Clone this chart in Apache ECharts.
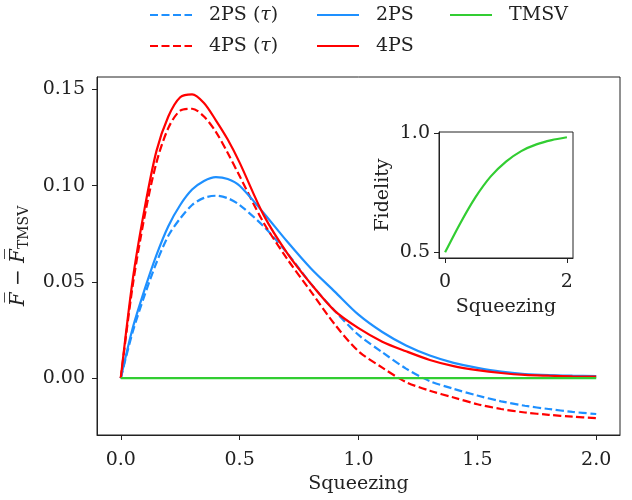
<!DOCTYPE html>
<html>
<head>
<meta charset="utf-8">
<script src="https://cdn.jsdelivr.net/npm/echarts@6/dist/echarts.min.js"></script>
<style>
  html, body { margin: 0; padding: 0; background: #fff; }
  #chart { width: 632px; height: 500px; }
</style>
</head>
<body>
<div id="chart"></div>
<script>
// squeezing values (x)
var squeezing = [0, 0.05, 0.1, 0.15, 0.2, 0.25, 0.3, 0.35, 0.4, 0.45, 0.5, 0.6, 0.7, 0.8, 0.9,
  1.0, 1.1, 1.2, 1.3, 1.4, 1.5, 1.6, 1.7, 1.8, 1.9, 2.0];

var ps2Tau = [0, 0.024, 0.043, 0.060, 0.074, 0.083, 0.090, 0.0937, 0.0948, 0.0935, 0.090, 0.079, 0.065, 0.049, 0.035,
  0.0225, 0.0135, 0.005, -0.0015, -0.0055, -0.009, -0.012, -0.0143, -0.016, -0.0175, -0.0186];
var ps4Tau = [0, 0.048, 0.084, 0.112, 0.130, 0.139, 0.140, 0.136, 0.128, 0.117, 0.105, 0.081, 0.062, 0.045, 0.028,
  0.014, 0.0055, -0.002, -0.0065, -0.010, -0.0135, -0.016, -0.0178, -0.019, -0.020, -0.0207];
var ps2 = [0, 0.026, 0.046, 0.064, 0.079, 0.090, 0.098, 0.1025, 0.1045, 0.1035, 0.100, 0.086, 0.071, 0.057, 0.045,
  0.033, 0.024, 0.017, 0.0118, 0.008, 0.0054, 0.0034, 0.0022, 0.0016, 0.0013, 0.0011];
var ps4 = [0, 0.051, 0.088, 0.118, 0.136, 0.146, 0.1475, 0.143, 0.134, 0.124, 0.112, 0.085, 0.065, 0.049, 0.035,
  0.026, 0.019, 0.014, 0.0095, 0.0063, 0.0042, 0.0027, 0.0017, 0.0013, 0.0010, 0.0008];
var tmsv = [0, 0, 0, 0, 0, 0, 0, 0, 0, 0, 0, 0, 0, 0, 0, 0, 0, 0, 0, 0, 0, 0, 0, 0, 0, 0];

// inset: TMSV fidelity
var insetSqueezing = [0, 0.25, 0.5, 0.75, 1.0, 1.25, 1.5, 1.75, 2.0];
var insetFidelity = [0.5, 0.622, 0.731, 0.818, 0.88, 0.924, 0.952, 0.97, 0.982];

var xTicks = [0, 0.5, 1, 1.5, 2];
var yTicks = [0, 0.05, 0.1, 0.15];
var insetXTicks = [0, 2];
var insetYTicks = [0.5, 1.0];

var FONT = 'DejaVu Serif';
var BLUE = '#1e90ff', RED = '#ff0000', GREEN = '#32cd32';

function pairs(xs, ys) {
  return xs.map(function (x, i) { return [x, ys[i]]; });
}

function lineSeries(name, ys, color, dashed) {
  return {
    type: 'line',
    name: name,
    xAxisIndex: 0,
    yAxisIndex: 0,
    data: pairs(squeezing, ys),
    symbol: 'none',
    smooth: 0.3,
    lineStyle: { color: color, width: 2.2, type: dashed ? [8, 3.5] : 'solid' },
    itemStyle: { color: color },
    animation: false
  };
}

var legendText = {
  fontFamily: FONT, fontSize: 19, color: '#222', lineHeight: 24,
  padding: [0, 0, 0, 12],
  rich: {
    a: { fontFamily: FONT, fontSize: 19, color: '#222' },
    i: { fontFamily: FONT, fontSize: 19, fontStyle: 'italic', color: '#222' }
  }
};
function legendFmt(name) {
  var m = name.match(/^(.*)\(τ\)$/);
  if (m) return '{a|' + m[1] + '(}{i|τ}{a|)}';
  return name;
}
function legendBox(left, names) {
  return {
    orient: 'vertical', left: left, top: 3, padding: 0,
    itemWidth: 42, itemHeight: 12, itemGap: 7,
    data: names, formatter: legendFmt, textStyle: legendText,
    itemStyle: { color: 'rgba(0,0,0,0)', borderWidth: 0, opacity: 0 },
    selectedMode: false
  };
}

var axisLabelStyle = { fontFamily: FONT, fontSize: 19, color: '#222' };
var axisLineStyle = { show: true, onZero: false, lineStyle: { color: '#222', width: 1 } };

var chart = echarts.init(document.getElementById('chart'), null, { renderer: 'canvas' });
chart.setOption({
  backgroundColor: '#fff',
  animation: false,
  legend: [
    legendBox(149, ['2PS (τ)', '4PS (τ)']),
    legendBox(316, ['2PS', '4PS']),
    legendBox(449, ['TMSV'])
  ],
  grid: [
    { left: 97, right: 12, top: 77, bottom: 65, show: true, borderColor: '#222', borderWidth: 1 },
    { left: 439, top: 132, width: 134, height: 126, show: true, borderColor: '#222', borderWidth: 1,
      backgroundColor: '#fff', z: 10 }
  ],
  xAxis: [
    {
      type: 'value', gridIndex: 0, min: -0.1, max: 2.1,
      name: 'Squeezing', nameLocation: 'middle', nameGap: 40,
      nameTextStyle: axisLabelStyle,
      axisLine: axisLineStyle,
      axisTick: { show: true, length: 5, customValues: xTicks, lineStyle: { color: '#222' } },
      axisLabel: { customValues: xTicks, margin: 16, formatter: function (v) { return v.toFixed(1); },
        fontFamily: FONT, fontSize: 19, color: '#222' },
      splitLine: { show: false }
    },
    {
      type: 'value', gridIndex: 1, min: -0.1, max: 2.1,
      name: 'Squeezing', nameLocation: 'middle', nameGap: 40,
      nameTextStyle: axisLabelStyle,
      axisLine: axisLineStyle,
      axisTick: { show: true, length: 5, customValues: insetXTicks, lineStyle: { color: '#222' } },
      axisLabel: { customValues: insetXTicks, margin: 15, formatter: function (v) { return String(Math.round(v)); },
        fontFamily: FONT, fontSize: 19, color: '#222' },
      splitLine: { show: false },
      z: 11
    }
  ],
  yAxis: [
    {
      type: 'value', gridIndex: 0, min: -0.0295, max: 0.1565,
      name: '{o|F̅} − {o|F̅}{s|TMSV}',
      nameLocation: 'middle', nameRotate: 90, nameGap: 54,
      nameTextStyle: {
        fontFamily: FONT, fontSize: 20, color: '#222',
        rich: {
          o: { fontFamily: FONT, fontSize: 20, fontStyle: 'italic', color: '#222', lineHeight: 26, verticalAlign: 'middle' },
          s: { fontFamily: FONT, fontSize: 14, color: '#222', lineHeight: 14, verticalAlign: 'bottom' }
        }
      },
      axisLine: axisLineStyle,
      axisTick: { show: true, length: 5, customValues: yTicks, lineStyle: { color: '#222' } },
      axisLabel: { customValues: yTicks, margin: 12, formatter: function (v) { return v.toFixed(2); },
        fontFamily: FONT, fontSize: 19, color: '#222' },
      splitLine: { show: false }
    },
    {
      type: 'value', gridIndex: 1, min: 0.476, max: 1.004,
      name: 'Fidelity', nameLocation: 'middle', nameRotate: 90, nameGap: 46,
      nameTextStyle: axisLabelStyle,
      axisLine: axisLineStyle,
      axisTick: { show: true, length: 5, customValues: insetYTicks, lineStyle: { color: '#222' } },
      axisLabel: { customValues: insetYTicks, margin: 9, formatter: function (v) { return v.toFixed(1); },
        fontFamily: FONT, fontSize: 19, color: '#222' },
      splitLine: { show: false },
      z: 11
    }
  ],
  series: [
    lineSeries('2PS (τ)', ps2Tau, BLUE, true),
    lineSeries('4PS (τ)', ps4Tau, RED, true),
    lineSeries('2PS', ps2, BLUE, false),
    lineSeries('4PS', ps4, RED, false),
    lineSeries('TMSV', tmsv, GREEN, false),
    {
      type: 'line', name: 'inset', xAxisIndex: 1, yAxisIndex: 1,
      data: pairs(insetSqueezing, insetFidelity),
      symbol: 'none', smooth: 0.25, z: 12,
      lineStyle: { color: GREEN, width: 2.2 },
      animation: false
    }
  ]
});
</script>
</body>
</html>
